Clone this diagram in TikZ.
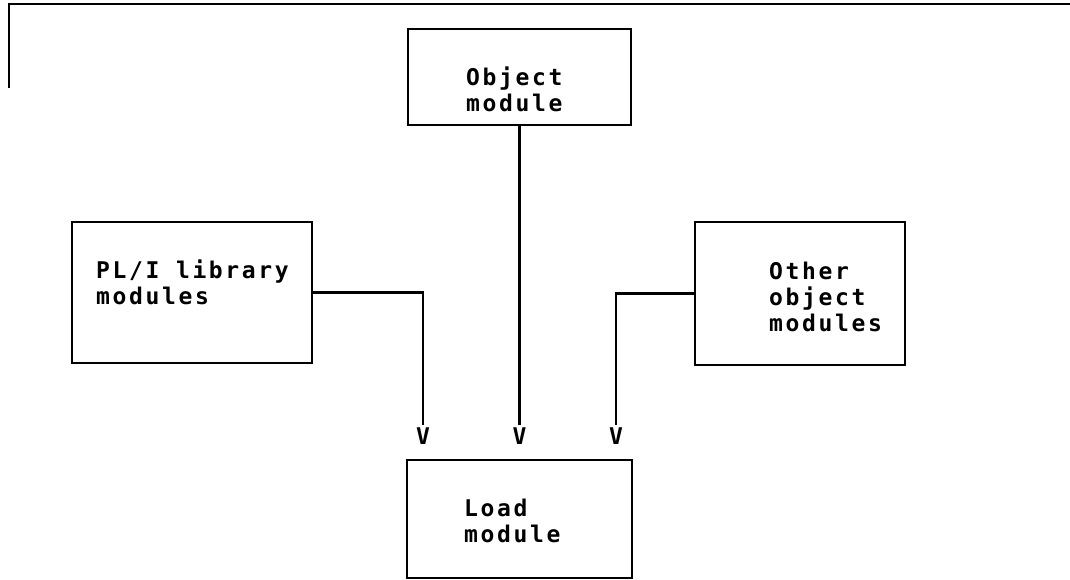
\documentclass[tikz,border=0pt]{standalone}
\usepackage{fontspec}
\newfontfamily\printfont[LetterSpace=11.5]{DejaVu Sans Mono Bold}
\begin{document}
\begin{tikzpicture}[x=1pt,y=-1pt,
  modbox/.style={draw,line width=2.8pt,inner sep=0pt,outer sep=0pt,anchor=north west},
  modtext/.style={anchor=base west,inner sep=0pt,align=left,
    font=\printfont\fontsize{23}{26}\selectfont},
  vtip/.style={anchor=north,inner sep=0pt,font=\printfont\fontsize{23}{26}\selectfont},
  conn/.style={line width=2.8pt}]
\useasboundingbox (0,0) rectangle (1070,579);

% frame corner at the top left
\draw[conn] (9,88) -- (9,4) -- (1070,4);

% module boxes
\node[modbox,minimum width=223pt,minimum height=96pt] (obj) at (408,29) {};
\node[modbox,minimum width=240pt,minimum height=141pt] (pli) at (72,222) {};
\node[modbox,minimum width=210pt,minimum height=143pt] (oth) at (695,222) {};
\node[modbox,minimum width=225pt,minimum height=118pt] (load) at (407,460) {};

% box captions (positioned by the baseline of their last line)
\node[modtext] (objt) at (466,111) {Object\\module};
\node[modtext] (plit) at (96,304) {PL/I library\\modules};
\node[modtext] (otht) at (769,331) {Other\\object\\modules};
\node[modtext] (loadt) at (464,542) {Load\\module};

% arrow heads printed as letters
\node[vtip] (v1) at (423,428) {V};
\node[vtip] (v2) at (obj.south |- 0,428) {V};
\node[vtip] (v3) at (616,428) {V};

% connectors
\draw[conn,shorten >=3pt] (pli.east) -| (v1.north);
\draw[conn,shorten >=3pt] (obj.south) -- (v2.north);
\draw[conn,shorten >=3pt] (oth.west) -| (v3.north);
\end{tikzpicture}
\end{document}
